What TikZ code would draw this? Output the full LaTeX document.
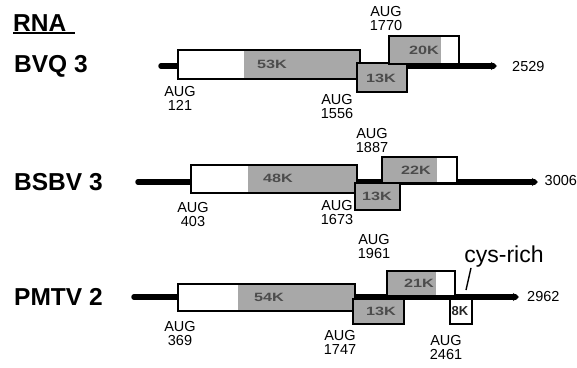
\documentclass[tikz,border=0pt]{standalone}
\usepackage{fontspec}
\setmainfont{Liberation Sans}
\newfontfamily\orffont{Liberation Sans}[FakeStretch=1.35]
\usetikzlibrary{arrows.meta}
\definecolor{orfgray}{RGB}{168,168,168}

\begin{document}
\begin{tikzpicture}[x=1pt,y=-1pt,>={Stealth[length=6pt,width=8pt]},
  rnaname/.style={font=\bfseries\fontsize{24.5}{24.5}\selectfont,anchor=west,inner sep=0pt},
  rnaline/.style={line width=5.5pt,line cap=round},
  orf/.style={draw=black,fill=orfgray,line width=1.8pt,anchor=north west,inner sep=0pt},
  lead/.style={path picture={\fill[white] (path picture bounding box.north west)
    rectangle ([xshift=#1]path picture bounding box.south west);}},
  tail/.style={path picture={\fill[white] (path picture bounding box.north east)
    rectangle ([xshift=-#1]path picture bounding box.south east);}},
  orflabel/.style={font=\orffont\bfseries\fontsize{12}{12}\selectfont,text=black!70,inner sep=0pt},
  aug/.style={font=\fontsize{14.5}{14}\selectfont,align=center,inner sep=0pt},
  len/.style={font=\fontsize{14.5}{14.5}\selectfont,anchor=west,inner sep=0pt}]
\useasboundingbox (0,0) rectangle (577,367);
\node[rnaname] (rna) at (13,23) {RNA};
\draw[line width=1.6pt] (rna.west |- 0,33) -- (75,33);

% BVQ 3
\node[rnaname] (bvq) at (14,66) {BVQ 3};
\coordinate (bvq5) at (161,66);
\coordinate (bvq3) at (497,66);
\draw[rnaline,->] (bvq5) -- (bvq3);
\node[orf,lead=66pt,minimum width=182pt,minimum height=29pt] (bvqA) at (177,49) {};
\node[orf,minimum width=50pt,minimum height=29pt] (bvqB) at (356,62) {};
\node[orf,tail=18pt,minimum width=70pt,minimum height=28pt] (bvqC) at (388,35) {};
\node[orflabel] at (272,64) {53K};
\node[orflabel] at (381,78) {13K};
\node[orflabel] at (424,50) {20K};
\node[len] (bvqlen) at (512,67) {2529};
\node[aug] (bvqaug1) at (180,98) {AUG\\121};
\node[aug] (bvqaug2) at (337,107) {AUG\\1556};
\node[aug] (bvqaug3) at (386,19) {AUG\\1770};

% BSBV 3
\node[rnaname] (bsbv) at (14,182) {BSBV 3};
\coordinate (bsbv5) at (138,182);
\coordinate (bsbv3) at (538,182);
\draw[rnaline,->] (bsbv5) -- (bsbv3);
\node[orf,lead=57pt,minimum width=166pt,minimum height=28pt] (bsbvA) at (190,164) {};
\node[orf,minimum width=45pt,minimum height=27pt] (bsbvB) at (354,182) {};
\node[orf,tail=20pt,minimum width=75pt,minimum height=26pt] (bsbvC) at (381,156) {};
\node[orflabel] at (278,178) {48K};
\node[orflabel] at (377,196) {13K};
\node[orflabel] at (416,170) {22K};
\node[len] (bsbvlen) at (544.5,181) {3006};
\node[aug] (bsbvaug1) at (193,215) {AUG\\403};
\node[aug] (bsbvaug2) at (337,213) {AUG\\1673};
\node[aug] (bsbvaug3) at (372,141) {AUG\\1887};

% PMTV 2
\node[rnaname] (pmtv) at (14,297) {PMTV 2};
\coordinate (pmtv5) at (134,297);
\coordinate (pmtv3) at (519,297);
\draw[rnaline,->] (pmtv5) -- (pmtv3);
\node[orf,lead=60pt,minimum width=177pt,minimum height=27pt] (pmtvA) at (177,283) {};
\node[orf,minimum width=51pt,minimum height=25pt] (pmtvB) at (352,298) {};
\node[orf,tail=19pt,minimum width=68pt,minimum height=25pt] (pmtvC) at (386,270) {};
\node[orf,fill=white,minimum width=22pt,minimum height=25pt] (pmtvD) at (449,298) {};
\node[orflabel] at (269,297) {54K};
\node[orflabel] at (381,311) {13K};
\node[orflabel] at (419,283) {21K};
\node[orflabel,text=black!85,font=\bfseries\fontsize{13}{13}\selectfont] at (460,311) {8K};
\node[len] (pmtvlen) at (527,297) {2962};
\node[aug] (pmtvaug1) at (180,334) {AUG\\369};
\node[aug] (pmtvaug2) at (340,342) {AUG\\1747};
\node[aug] (pmtvaug3) at (374,247) {AUG\\1961};
\node[aug] (pmtvaug4) at (446,348) {AUG\\2461};
\node[font=\fontsize{23}{23}\selectfont,inner sep=0pt] (cys) at (504,257) {cys-rich};
\coordinate (cystip) at (466,290);
\draw[line width=1.4pt] (cys.south -| 471,0) -- (cystip);
\end{tikzpicture}
\end{document}
